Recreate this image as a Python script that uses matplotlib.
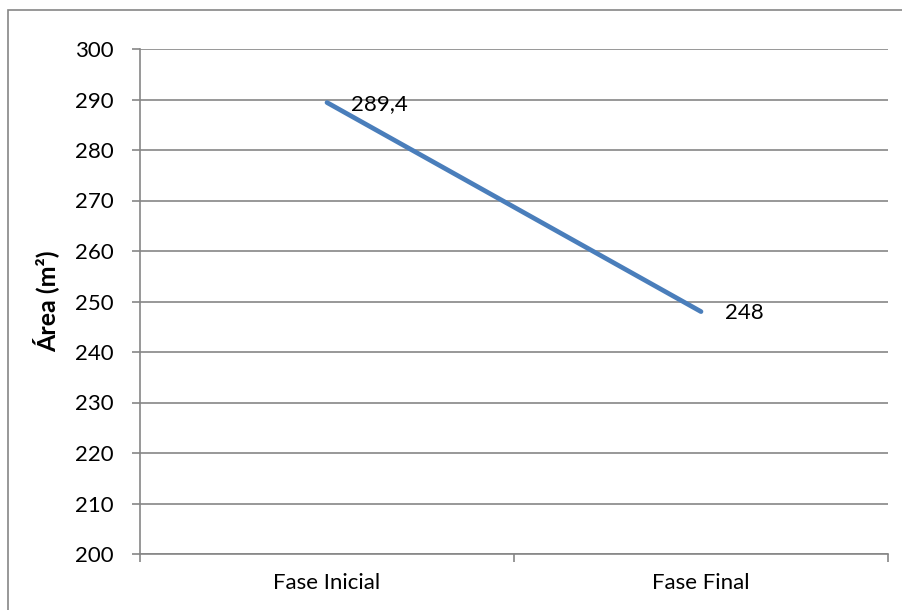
import matplotlib.pyplot as plt
from matplotlib.patches import Rectangle

fases = ["Fase Inicial", "Fase Final"]
area = [289.4, 248]
rotulos = ["289,4", "248"]
yticks = list(range(200, 301, 10))

plt.rcParams["font.family"] = ["Lato", "DejaVu Sans"]

fig = plt.figure(figsize=(9.03, 6.10), dpi=100)
ax = fig.add_axes([140 / 903, 1 - 554 / 610, 748 / 903, 505 / 610])

cinza = "#868686"
x = [0.5, 1.5]
ax.plot(x, area, color="#4A7EBB", lw=3.4, solid_capstyle="round", zorder=3)
for xi, v, t in zip(x, area, rotulos):
    ax.annotate(t, (xi, v), xytext=(17, -1), textcoords="offset points",
                ha="left", va="center", fontsize=16, zorder=4)

ax.set_xlim(0, 2)
ax.set_ylim(200, 300)
ax.set_yticks(yticks)
ax.set_xticks([0, 1, 2])
ax.set_xticklabels([])
ax.set_xticks(x, minor=True)
ax.set_xticklabels(fases, minor=True)
ax.tick_params(axis="x", which="minor", length=0, labelsize=16, pad=14)
ax.tick_params(axis="x", which="major", length=6, color=cinza, width=1.2)
ax.tick_params(axis="y", length=6, color=cinza, width=1.2, labelsize=16, pad=13)
ax.yaxis.grid(True, color=cinza, lw=1.2)
ax.set_axisbelow(True)

for s in ["top", "right"]:
    ax.spines[s].set_visible(False)
for s in ["left", "bottom"]:
    ax.spines[s].set_color(cinza)
    ax.spines[s].set_linewidth(1.2)

ax.set_ylabel("Área (m²)", fontsize=18, fontweight="bold", labelpad=11)

# moldura externa do gráfico
fig.patches.append(Rectangle((8 / 903, -0.1), 1.2, 1.1 - 10 / 610, fill=False,
                             edgecolor=cinza, lw=1.2, transform=fig.transFigure))

fig.savefig("out.png", dpi=100)
